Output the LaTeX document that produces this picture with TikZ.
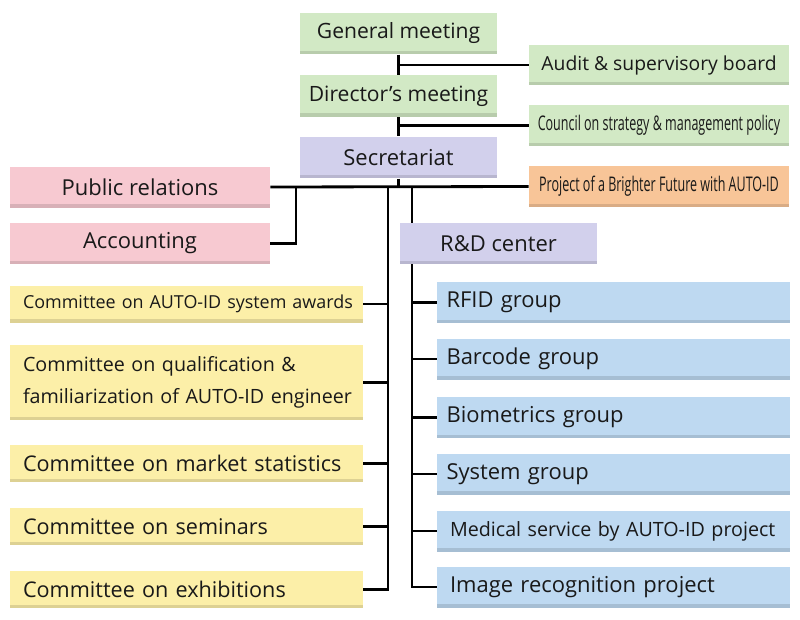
\documentclass[tikz,border=0pt]{standalone}
\usepackage{fontspec}
\setmainfont{Open Sans}
\newfontfamily\narrowfont[FakeStretch=0.62]{Open Sans}
\usetikzlibrary{backgrounds}

\definecolor{boxgreen}{RGB}{210,233,197}
\definecolor{boxlilac}{RGB}{210,208,236}
\definecolor{boxpink}{RGB}{247,201,209}
\definecolor{boxorange}{RGB}{248,197,152}
\definecolor{boxyellow}{RGB}{252,239,168}
\definecolor{boxblue}{RGB}{190,217,241}

\tikzset{
  orgbox/.style={fill=#1, inner sep=0pt, text=black!90,
    font=\fontsize{12.5}{14}\selectfont,
    path picture={\fill[#1!65!black, opacity=.35]
      (path picture bounding box.south west) rectangle ([yshift=0.07cm]path picture bounding box.south east);}},
  headbox/.style={orgbox=#1, minimum width=3.96cm, minimum height=0.83cm},
  sidebox/.style={orgbox=#1, minimum width=5.2cm, minimum height=0.82cm},
  cmtbox/.style={orgbox=boxyellow, minimum height=0.74cm, inner xsep=0.26cm,
    text width=6.54cm, align=left, font=\fontsize{12.3}{14}\selectfont},
  grpbox/.style={orgbox=boxblue, minimum height=0.82cm, inner xsep=0.19cm,
    text width=6.68cm, align=left},
  link/.style={line width=1.6pt}
}

\begin{document}
\begin{tikzpicture}[x=0.02cm, y=-0.02cm]
\useasboundingbox (0,0) rectangle (800,619);

% top of the chart
\node[headbox=boxgreen, font=\fontsize{12}{14}\selectfont] (general) at (398.5,33.5) {General meeting};
\node[sidebox=boxgreen, font=\fontsize{11}{13}\selectfont] (audit) at (659,65) {Audit \& supervisory board};
\node[headbox=boxgreen, font=\fontsize{12}{14}\selectfont] (director) at (398.5,96) {Director’s meeting};
\node[sidebox=boxgreen, font=\narrowfont\fontsize{11.5}{13}\selectfont] (council) at (659,125.5) {Council on strategy \& management policy};
\node[headbox=boxlilac] (secretariat) at (398.5,157.5) {Secretariat};
\node[sidebox=boxorange, font=\narrowfont\fontsize{11.5}{13}\selectfont] (project) at (659,186.5) {Project of a Brighter Future with AUTO-ID};

\node[sidebox=boxpink] (pr) at (140,187) {Public relations};
\node[sidebox=boxpink] (accounting) at (140,243.5) {Accounting};
\node[headbox=boxlilac] (rd) at (498.5,243.5) {R\&D center};

% committees
\node[cmtbox, font=\fontsize{10.2}{13}\selectfont] (awards) at (186.5,304) {\mbox{Committee on AUTO-ID system awards}};
\node[cmtbox, minimum height=1.5cm, font=\fontsize{11.2}{18.5}\selectfont] (qualification) at (186.5,382.5) {\mbox{Committee on qualification \&}\\\mbox{familiarization of AUTO-ID engineer}};
\node[cmtbox] (market) at (186.5,463.5) {Committee on market statistics};
\node[cmtbox] (seminars) at (186.5,526.5) {Committee on seminars};
\node[cmtbox] (exhibitions) at (186.5,589.5) {Committee on exhibitions};

% groups
\node[grpbox] (rfid) at (613.5,302.5) {RFID group};
\node[grpbox] (barcode) at (613.5,359) {Barcode group};
\node[grpbox] (biometrics) at (613.5,417.5) {Biometrics group};
\node[grpbox] (system) at (613.5,474) {System group};
\node[grpbox, font=\fontsize{11.2}{14}\selectfont] (medical) at (613.5,531) {\hspace*{0.07cm}\mbox{Medical service by AUTO-ID project}};
\node[grpbox] (image) at (613.5,587) {\hspace*{0.07cm}Image recognition project};

\coordinate (hub) at (398.5,187);
\coordinate (accbus) at (296,187);
\coordinate (leftbus) at (388,187);
\coordinate (rightbus) at (412,187);

\begin{scope}[on background layer]
  \draw[link] (general) -- (director);
  \draw[link] (audit.west) -- (audit.west -| general.south);
  \draw[link] (director) -- (secretariat);
  \draw[link] (council.west) -- (council.west -| director.south);
  \draw[link] (secretariat) -- (hub);
  \draw[link] (pr.east) -- (project.west);
  \draw[link] (accounting.east) -| (accbus);
  \draw[link] (leftbus) |- (exhibitions.east);
  \foreach \n in {awards, qualification, market, seminars}
    \draw[link] (\n.east) -- (\n.east -| leftbus);
  \draw[link] (rightbus) |- (image.west);
  \foreach \n in {rfid, barcode, biometrics, system, medical}
    \draw[link] (\n.west) -- (\n.west -| rightbus);
\end{scope}
\end{tikzpicture}
\end{document}
